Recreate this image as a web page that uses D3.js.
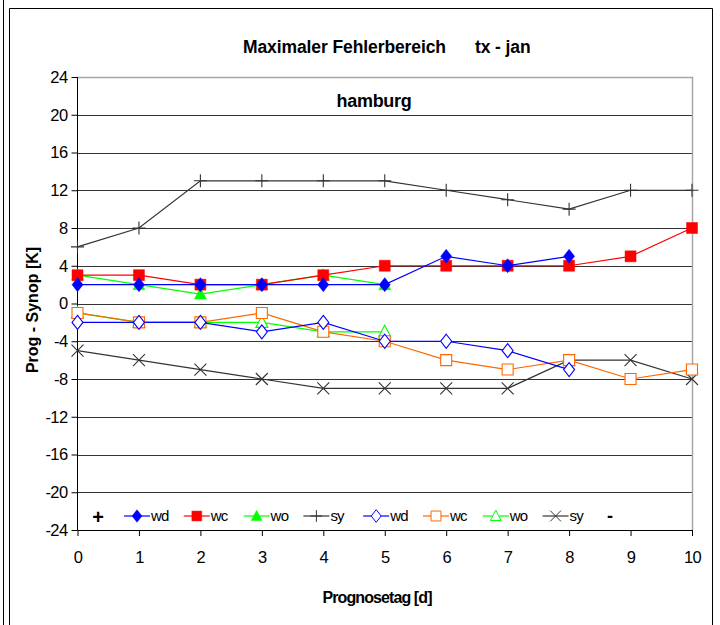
<!DOCTYPE html>
<html>
<head>
<meta charset="utf-8">
<script src="https://cdn.jsdelivr.net/npm/d3@7"></script>
<style>
  html, body { margin: 0; padding: 0; background: #fff; }
  svg { display: block; font-family: "Liberation Sans", Arial, sans-serif; }
</style>
</head>
<body>
<svg id="chart" width="720" height="625"></svg>
<script>
// ---- data ----
const days = [0, 1, 2, 3, 4, 5, 6, 7, 8, 9, 10];
const yTicks = [24, 20, 16, 12, 8, 4, 0, -4, -8, -12, -16, -20, -24];

// upper bound (+) series
const wdPlus = [2, 2, 2, 2, 2, 2, 5, 4, 5];
const wcPlus = [3, 3, 2, 2, 3, 4, 4, 4, 4, 5, 8];
const woPlus = [3, 2, 1, 2, 3, 2];
const syPlus = [6, 8, 13, 13, 13, 13, 12, 11, 10, 12, 12];

// lower bound (-) series
const wdMinus = [-2, -2, -2, -3, -2, -4, -4, -5, -7];
const wcMinus = [-1, -2, -2, -1, -3, -4, -6, -7, -6, -8, -7];
const woMinus = [-1, -2, -2, -2, -3, -3];
const syMinus = [-5, -6, -7, -8, -9, -9, -9, -9, -6, -6, -8];

const seriesNames = ["wd", "wc", "wo", "sy", "wd", "wc", "wo", "sy"];

const titleText = "Maximaler Fehlerbereich";
const titleText2 = "tx - jan";
const subTitle = "hamburg";
const yLabel = "Prog - Synop [K]";
const xLabel = "Prognosetag [d]";

// ---- layout ----
const svg = d3.select("#chart");
const L = 77.5, R = 692, T = 77, B = 530;

const x = d3.scaleLinear().domain([0, 10]).range([L, R]);
const y = d3.scaleLinear().domain([-24, 24]).range([B, T]);

// outer frames
svg.append("line").attr("x1", 3.5).attr("x2", 3.5).attr("y1", 0).attr("y2", 625).attr("stroke", "#000");
svg.append("path").attr("d", "M9.5,625 V8.5 H712.5 V625").attr("fill", "none").attr("stroke", "#000");

// gridlines
svg.append("g").selectAll("line").data(yTicks.filter(t => t !== -24 && t !== 24)).join("line")
  .attr("x1", L).attr("x2", R)
  .attr("y1", d => Math.round(y(d)) + 0.5).attr("y2", d => Math.round(y(d)) + 0.5)
  .attr("stroke", "#333").attr("stroke-width", 1);

// plot border top/right (gray)
svg.append("path")
  .attr("d", `M${L},${Math.round(T) + 0.5} H${R + 0.5} V${B}`)
  .attr("fill", "none").attr("stroke", "#a6a6a6").attr("stroke-width", 1.5);

const fmt = d => String(d);

// axes
const yAxis = d3.axisLeft(y).tickValues(yTicks).tickSize(6).tickPadding(4).tickFormat(fmt);
const gy = svg.append("g").attr("transform", `translate(${L},0)`).call(yAxis);
gy.select(".domain").remove();
gy.append("line").attr("x1", 0).attr("x2", 0).attr("y1", T).attr("y2", B).attr("stroke", "#000");
gy.selectAll("text").attr("font-size", 16.5).attr("fill", "#000").attr("font-family", "Liberation Sans, Arial").style("letter-spacing", "-0.6px");

const xAxis = d3.axisBottom(x).tickValues(days).tickSize(6).tickPadding(15).tickFormat(fmt);
const gx = svg.append("g").attr("transform", `translate(0,${B})`).call(xAxis);
gx.select(".domain").remove();
gx.append("line").attr("x1", L).attr("x2", R).attr("y1", 0.5).attr("y2", 0.5).attr("stroke", "#000");
gx.selectAll("text").attr("font-size", 16.5).attr("fill", "#000").attr("font-family", "Liberation Sans, Arial").style("letter-spacing", "-0.6px");

// titles
svg.append("text").attr("x", 243).attr("y", 53).attr("font-size", 17.5).attr("font-weight", "bold")
  .style("letter-spacing", "-0.1px").text(titleText);
svg.append("text").attr("x", 475).attr("y", 53).attr("font-size", 17.5).attr("font-weight", "bold")
  .style("letter-spacing", "-0.1px").text(titleText2);
svg.append("text").attr("x", 374).attr("y", 107).attr("text-anchor", "middle").attr("font-size", 18)
  .attr("font-weight", "bold").style("letter-spacing", "-0.3px").text(subTitle);
svg.append("text").attr("transform", "translate(38,310) rotate(-90)").attr("text-anchor", "middle")
  .attr("font-size", 16).attr("font-weight", "bold").text(yLabel);
svg.append("text").attr("x", 377).attr("y", 603).attr("text-anchor", "middle").attr("font-size", 16)
  .attr("font-weight", "bold").style("letter-spacing", "-0.9px").text(xLabel);

// marker paths
const mk = {
  diamond: "M0,-7 L5.5,0 L0,7 L-5.5,0 Z",
  square: "M-5.5,-5.5 H5.5 V5.5 H-5.5 Z",
  triangle: "M0,-6.5 L6,5 L-6,5 Z",
  plus: "M-6.5,0 H6.5 M0,-6.5 V6.5",
  cross: "M-6,-6 L6,6 M-6,6 L6,-6"
};

const series = [
  { v: wdPlus, color: "#0000ff", m: "diamond", fill: true },
  { v: wcPlus, color: "#ff0000", m: "square", fill: true },
  { v: woPlus, color: "#00ff00", m: "triangle", fill: true },
  { v: syPlus, color: "#333333", m: "plus", fill: false },
  { v: wdMinus, color: "#0000ff", m: "diamond", fill: false },
  { v: wcMinus, color: "#ff6600", m: "square", fill: false },
  { v: woMinus, color: "#00ff00", m: "triangle", fill: false },
  { v: syMinus, color: "#333333", m: "cross", fill: false }
];

const line = d3.line().x((d, i) => x(days[i])).y(d => y(d));

function drawMarker(g, s, scale) {
  return g.append("path").attr("d", mk[s.m])
    .attr("fill", s.fill ? s.color : (s.m === "plus" || s.m === "cross" ? "none" : "#fff"))
    .attr("stroke", s.color).attr("stroke-width", s.fill ? 0.5 : 1.1);
}

const drawOrder = [7, 6, 5, 4, 3, 2, 1, 0];
drawOrder.forEach(k => {
  const s = series[k];
  const g = svg.append("g");
  g.append("path").datum(s.v).attr("d", line).attr("fill", "none")
    .attr("stroke", s.color).attr("stroke-width", 1.2);
  s.v.forEach((val, i) => {
    drawMarker(g, s).attr("transform", `translate(${x(days[i])},${y(val)})`);
  });
});

// legend
const lg = svg.append("g");
lg.append("text").attr("x", 98).attr("y", 524).attr("text-anchor", "middle").attr("font-size", 20)
  .attr("font-weight", "bold").text("+");
series.forEach((s, i) => {
  const cx = 137 + i * 59.8;
  const cy = 516;
  lg.append("line").attr("x1", cx - 13).attr("x2", cx + 13).attr("y1", cy).attr("y2", cy)
    .attr("stroke", s.color).attr("stroke-width", 1.2);
  drawMarker(lg, s).attr("transform", `translate(${cx},${cy}) scale(0.9)`);
  lg.append("text").attr("x", cx + 14).attr("y", 521).attr("font-size", 15)
    .style("letter-spacing", "-0.8px").text(seriesNames[i]);
});
lg.append("text").attr("x", 610).attr("y", 522).attr("text-anchor", "middle").attr("font-size", 18)
  .attr("font-weight", "bold").text("-");
</script>
</body>
</html>
